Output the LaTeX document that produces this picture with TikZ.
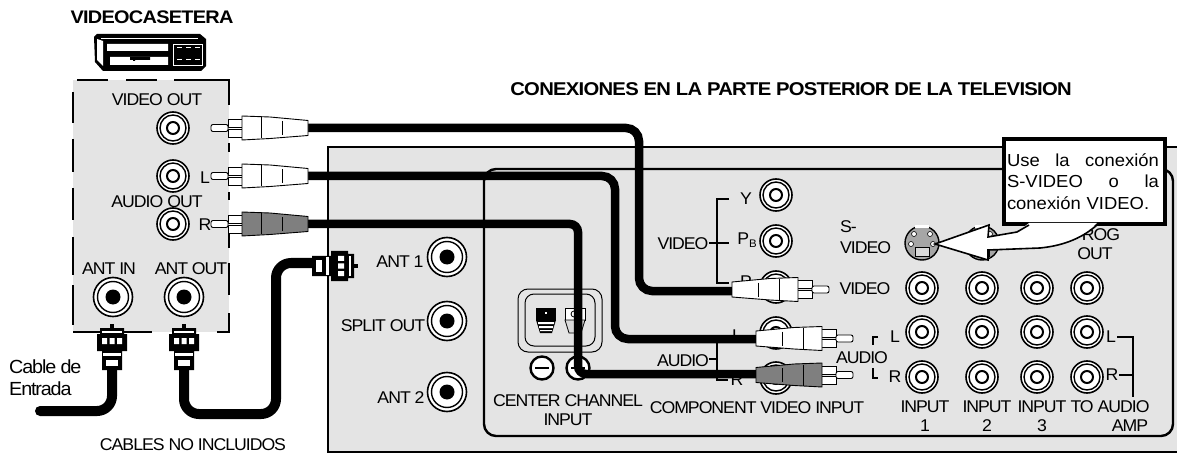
\documentclass[tikz,border=0pt]{standalone}
\usepackage{fontspec}
\setmainfont{Liberation Sans}
\newfontfamily\tightsans[LetterSpace=-6,FakeStretch=1.04]{Liberation Sans}
\newfontfamily\tightbold[LetterSpace=-4,FakeStretch=1.095]{Liberation Sans Bold}
\newfontfamily\notefont[FakeStretch=1.06]{Liberation Sans}
\definecolor{panelgray}{HTML}{E4E4E4}
\definecolor{plugdark}{HTML}{7F7F7F}
\usetikzlibrary{arrows.meta,positioning,shapes.geometric}

\begin{document}
\begin{tikzpicture}[
				x=1pt,y=-1pt,
				lab/.style={inner sep=0pt,font=\tightsans\fontsize{17}{18}\selectfont},
				headlab/.style={inner sep=0pt,font=\tightbold\fontsize{18.5}{18}\selectfont},
				jack/.style={circle,draw=black,line width=1.6pt,fill=white,minimum size=32pt,inner sep=0pt},
				antjack/.style={circle,draw=black,line width=1.6pt,fill=white,minimum size=39pt,inner sep=0pt},
				bracket/.style={line width=1.2pt,draw=black},
				cable/.style={line width=8.5pt,draw=black,rounded corners=13pt},
				coaxcable/.style={line width=10pt,draw=black,rounded corners=15pt,line cap=round},
				callout/.style={rectangle,draw=black,line width=3.4pt,fill=white,minimum width=161pt,minimum height=85pt,text width=149pt,inner sep=0pt,align=left,font=\notefont\fontsize{17.4}{21.5}\selectfont},
				pics/rcaplug/.style={code={
					\draw[fill=white,line width=0.9pt] (-1,-9) rectangle (14,-1);
					\draw[fill=white,line width=0.9pt] (-1,1) rectangle (14,9);
					\draw[fill=white,line width=0.9pt,rounded corners=2pt] (14,-3.5) rectangle (31,3.5);
					\draw[fill=#1,line width=0.9pt] (-66,-7.5) -- (-28,-11) -- (0,-12) -- (0,12) -- (-28,10.5) -- (-66,7.5) -- cycle;
					\draw[line width=0.7pt] (-19,-10.5) -- (-19,10.5) (-40,-7) -- (-40,7);
				}},
				pics/coaxplug/.style={code={
					\fill[black] (-2,-46) rectangle (2,-40);
					\fill[black] (-12,-42) -- (12,-42) -- (12,-36) -- (15,-36) -- (15,-19) -- (10,-19) -- (10,0) -- (-10,0) -- (-10,-19) -- (-15,-19) -- (-15,-36) -- (-12,-36) -- cycle;
					\fill[white] (-10,-39) rectangle (10,-37);
					\fill[white] (-10,-32) rectangle (-5,-26) (-2.5,-32) rectangle (2.5,-26) (5,-32) rectangle (10,-26);
					\fill[white] (-9,-17) rectangle (9,-14);
					\fill[white] (-6,-10) rectangle (6,-4);
				}}
				]
				\useasboundingbox (0,0) rectangle (1177,454);

				\fill[panelgray] (73,80) rectangle (229,332);
				\fill[panelgray] (328,147) rectangle (1177,452);
				\draw[line width=1.6pt] (1177,147) -- (328,147) -- (328,452) -- (1177,452);
				\draw[line width=2.4pt,rounded corners=12pt] (484,169) rectangle (1173,436);
				\draw[line width=1.4pt] (77,80) -- (108,80) (126,80) -- (157,80) (174,80) -- (229,80) -- (229,105)
					(229,143) -- (229,152) (229,192) -- (229,200) (229,230) -- (229,248) (229,263) -- (229,295) (229,313) -- (229,332) -- (217,332)
					(73,332) -- (152,332) (73,92) -- (73,123) (73,139) -- (73,172) (73,188) -- (73,220) (73,237) -- (73,275) (73,285) -- (73,325);

				\fill[black] (94,37) -- (97,34) -- (200,34) -- (206,39) -- (206,66) -- (201,71) -- (103,71) -- (95,62) -- cycle;
				\fill[white] (97,39) -- (103,41) -- (103,66) -- (97,60) -- cycle;
				\draw[white,line width=0.8pt] (101,38) -- (198,38) (173,44) rectangle (202,65) (177,47) -- (182,47) (186,47) -- (191,47) (195,47) -- (200,47) (177,59) -- (182,59) (186,59) -- (191,59) (195,59) -- (200,59);
				\fill[white] (107,44) rectangle (168,51) (110,57) rectangle (168,65);
				\fill[black] (130,57) rectangle (150,60) (133,60) rectangle (135,61);

				\node[headlab,font=\tightbold\fontsize{18.2}{18}\selectfont] (vcrtitle) at (152,17) {VIDEOCASETERA};
				\node[headlab] (tvtitle) at (791,89) {CONEXIONES EN LA PARTE POSTERIOR DE LA TELEVISION};
				\node[lab] (videoout) at (157,100) {VIDEO OUT};
				\node[lab] (audioout) at (157,202) {AUDIO OUT};
				\node[lab] (vcrl) at (205,178) {L};
				\node[lab] (vcrr) at (205,225) {R};
				\node[lab] (antin) at (109,269) {ANT IN};
				\node[lab] (antout) at (191,269) {ANT OUT};
				\node[lab,align=left,anchor=north west,font=\tightsans\fontsize{19}{22}\selectfont] (entrada) at (9,360) {Cable de\\Entrada};
				\node[lab] (noincl) at (193,445) {CABLES NO INCLUIDOS};
				\node[lab] (ant1) at (400,262) {ANT 1};
				\node[lab] (splitout) at (383,326) {SPLIT OUT};
				\node[lab] (ant2) at (401,398) {ANT 2};
				\node[lab,align=center,font=\tightsans\fontsize{17}{19}\selectfont] (center) at (568,410) {CENTER CHANNEL\\INPUT};
				\node[lab] (component) at (757,408) {COMPONENT VIDEO INPUT};
				\node[lab] (audioa) at (683,361) {AUDIO};
				\node[lab] (videoa) at (683,244) {VIDEO};
				\node[lab] (ylab) at (746,199) {Y};
				\node[lab] (pblab) at (747,240) {P\raisebox{-3pt}{\fontsize{11}{11}\selectfont B}};
				\node[lab] (prlab) at (746,282) {P};
				\node[lab] (audiolab) at (737,336) {L};
				\node[lab] (audiorlab) at (737,380) {R};
				\node[lab,align=left,anchor=north west,font=\tightsans\fontsize{17}{21}\selectfont] (svideo) at (840,220) {S-\\VIDEO};
				\node[lab] (videob) at (865,289) {VIDEO};
				\node[lab] (audiob) at (862,358) {AUDIO};
				\node[lab] (inl) at (895,337) {L};
				\node[lab] (inr) at (895,377) {R};
				\node[lab] (prog) at (1101,235) {ROG};
				\node[lab] (progout) at (1095,254) {OUT};
				\node[lab] (ampl) at (1111,337) {L};
				\node[lab] (ampr) at (1112,375) {R};
				\foreach \name/\x/\txt in {inputa/925/1,inputb/987/2,inputc/1042/3}
					\node[lab,align=center,font=\tightsans\fontsize{17}{19}\selectfont] (\name) at (\x,416) {INPUT\\\txt};
				\node[lab] (toaudio) at (1110,407) {TO AUDIO};
				\node[lab] (amp) at (1130,426) {AMP};

				\draw[bracket] (729,199) -- (717,199) -- (717,283) -- (729,283) (709,243) -- (729,243);
				\draw[bracket] (717,343) -- (717,380) -- (728,380) (709,359) -- (717,359);
				\draw[bracket] (878,337) -- (873,337) -- (873,345) (873,368) -- (873,378) -- (878,378);
				\draw[bracket] (1117,337) -- (1133,337) -- (1133,397) (1119,375) -- (1133,375);

				\foreach \name/\x/\y in {vout/173/128,laud/173/176,raud/173/224,yjack/776/195,pbjack/776/241,prjack/776/287,lcomp/776/333,rcomp/776/378,
					vina/922/288,vinb/982/288,vinc/1037/288,vind/1087/288,lina/922/332,linb/982/332,linc/1037/332,lind/1087/332,rina/922/377,rinb/982/377,rinc/1037/377,rind/1087/377}{
					\node[jack] (\name) at (\x,\y) {};
					\draw[line width=1.4pt] (\name) circle (13pt);
					\draw[line width=2pt] (\name) circle (6pt);
				}
				\foreach \name/\x/\y in {antinjack/113/297,antoutjack/184/297,antajack/447/257,splitjack/447/321,antbjack/447/392}{
					\node[antjack] (\name) at (\x,\y) {};
					\draw[line width=1.4pt] (\name) circle (15.5pt);
					\fill[black] (\name) circle (7.5pt);
				}

				\foreach \name/\x in {svidjack/922,svidjackb/982}{
					\node[circle,draw=black,line width=1.4pt,fill=gray!70,minimum size=34pt,inner sep=0pt] (\name) at (\x,243) {};
					\draw[fill=white,line width=0.6pt] (\x-8,234) circle (2.5pt) (\x+8,234) circle (2.5pt) (\x-11,244) circle (2.5pt) (\x+11,244) circle (2.5pt);
					\draw[fill=gray!30,line width=0.8pt] (\x-7,247) rectangle (\x+7,256);
					\fill[white] (\x-7,225) rectangle (\x+7,228.5);
				}

				\draw[line width=1pt,rounded corners=10pt] (518,289) rectangle (602,352);
				\draw[line width=1pt,rounded corners=9pt] (525,294) rectangle (595,346);
				\fill[black] (536,308) rectangle (556,320);
				\fill[white] (545,312) rectangle (547,314);
				\fill[black] (536,320) -- (556,320) -- (552,333) -- (540,333) -- cycle;
				\fill[white] (538,322) rectangle (554,324) (539,326) rectangle (553,328) (540,330) rectangle (552,331);
				\draw[fill=white,line width=0.8pt] (565,308) rectangle (585,320);
				\draw[line width=0.8pt] (574,314) circle (3pt);
				\draw[fill=gray!30,line width=0.8pt] (565,320) -- (585,320) -- (581,333) -- (569,333) -- cycle;
				\node[circle,draw=black,line width=2.4pt,fill=white,minimum size=23pt,inner sep=0pt] (minusjack) at (542,368) {};
				\node[circle,draw=black,line width=2.4pt,fill=white,minimum size=23pt,inner sep=0pt] (plusjack) at (578,368) {};
				\draw[line width=2.4pt] (535,368) -- (549,368) (571,368) -- (585,368);

				\coordinate (vidout) at (300,128);
				\coordinate (lout) at (300,176);
				\coordinate (rout) at (300,224);
				\coordinate (vidin) at (740,291);
				\coordinate (lin) at (765,339);
				\coordinate (rin) at (765,374);
				\draw[cable] (vidout) -- (639,128) |- (vidin);
				\draw[cable] (lout) -- (615,176) |- (lin);
				\draw[cable,rounded corners=8pt] (rout) -- (578,224) |- (rin);

				\pic[xscale=-1] at (242,128) {rcaplug=white};
				\pic[xscale=-1] at (242,176) {rcaplug=white};
				\pic[xscale=-1] at (242,224) {rcaplug=plugdark};
				\pic at (798,289.5) {rcaplug=white};
				\pic at (822,338.5) {rcaplug=white};
				\pic at (822,375) {rcaplug=plugdark};

				\coordinate (inend) at (40,411);
				\coordinate (intop) at (112,365);
				\coordinate (outtop) at (184,365);
				\coordinate (outmid) at (276,414);
				\coordinate (tvend) at (320,263);
				\draw[coaxcable] (inend) -| (intop);
				\draw[coaxcable] (outtop) |- (outmid) |- (tvend);
				\pic at (112,370) {coaxplug};
				\pic at (184,370) {coaxplug};
				\pic[rotate=-90] at (312,266) {coaxplug};

				\node[callout] (note) at (1084.5,181.5) {\hspace*{-3pt}Use\hfill la\hfill conexión\hspace*{4pt}\\\hspace*{-3pt}S-VIDEO\hfill o\hfill la\hspace*{4pt}\\\hspace*{-3pt}conexión VIDEO.};
				\fill[white] (935,244) -- (989,225) -- (988,237) -- (1017,232) -- (1029,223) -- (1097,223) .. controls (1080,240) and (1060,246) .. (1040,248) -- (988,250) -- (988,260) -- cycle;
				\draw[line width=1.6pt,line join=miter] (1029,225) -- (1017,232) -- (988,237) -- (989,225) -- (935,244) -- (988,260) -- (988,250) -- (1040,248) .. controls (1060,246) and (1080,240) .. (1097,225);
		\end{tikzpicture}
\end{document}
